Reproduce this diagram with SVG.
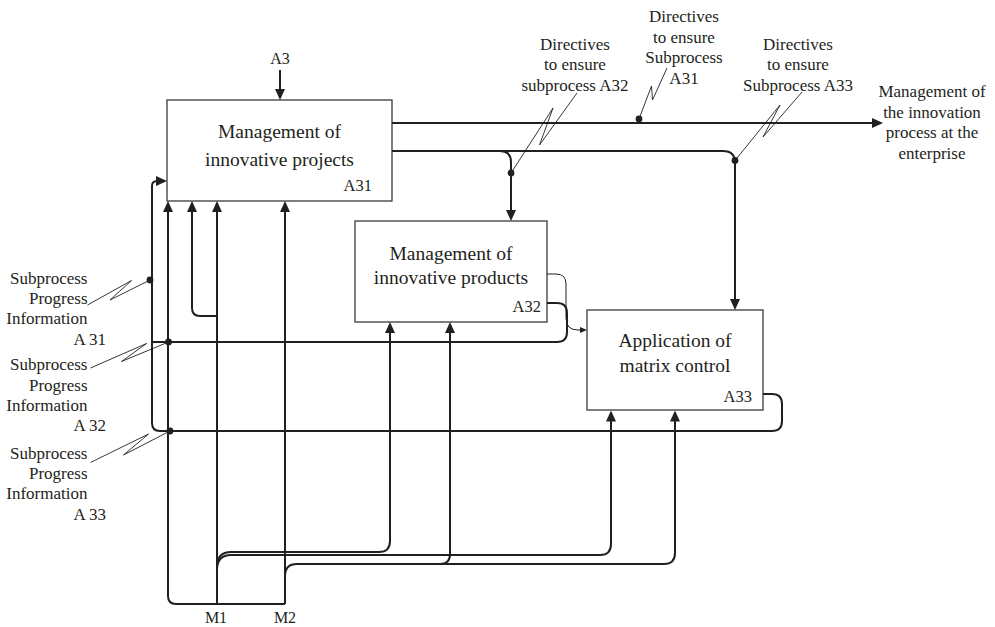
<svg xmlns="http://www.w3.org/2000/svg" width="995" height="627" viewBox="0 0 995 627">
  <style>
    text { font-family: "Liberation Serif", "Times New Roman", serif; fill: #231f20; }
    .title { font-size: 19.5px; text-anchor: middle; }
    .idx { font-size: 16.5px; text-anchor: end; }
    .note { font-size: 17px; text-anchor: middle; }
    .note-r { font-size: 17px; text-anchor: end; }
    .tag { font-size: 16px; text-anchor: middle; }
    .box { fill: #fff; stroke: #3a3a3a; stroke-width: 1.3; }
    .conn { fill: none; stroke: #231f20; stroke-width: 2; }
    .arrow { marker-end: url(#head); }
    .thin { fill: none; stroke: #231f20; stroke-width: 1; marker-end: url(#head-small); }
    .leader { fill: none; stroke: #231f20; stroke-width: 0.9; stroke-linejoin: miter; }
    .dot { fill: #231f20; }
  </style>
  <defs>
    <marker id="head" viewBox="0 0 11 10" refX="6" refY="5" markerWidth="11" markerHeight="10" markerUnits="userSpaceOnUse" orient="auto">
      <path d="M0,0 L11,5 L0,10 Z" fill="#231f20"/>
    </marker>
    <marker id="head-small" viewBox="0 0 7 6" refX="4" refY="3" markerWidth="7" markerHeight="6" markerUnits="userSpaceOnUse" orient="auto">
      <path d="M0,0 L7,3 L0,6 Z" fill="#231f20"/>
    </marker>
  </defs>

  <!-- activity boxes -->
  <g id="node-A31">
    <rect class="box" x="167" y="100" width="225" height="101"/>
    <text class="title" x="279.5" y="138">Management of</text>
    <text class="title" x="279.5" y="166">innovative projects</text>
    <text class="idx" x="372" y="191">A31</text>
  </g>
  <g id="node-A32">
    <rect class="box" x="355" y="221" width="192" height="101"/>
    <text class="title" x="451" y="260">Management of</text>
    <text class="title" x="451" y="284">innovative products</text>
    <text class="idx" x="541" y="311.5">A32</text>
  </g>
  <g id="node-A33">
    <rect class="box" x="587" y="310" width="176" height="100"/>
    <text class="title" x="675" y="346.5">Application of</text>
    <text class="title" x="675" y="371.5">matrix control</text>
    <text class="idx" x="752" y="401.5">A33</text>
  </g>

  <g id="connectors">
    <!-- control from parent -->
    <path class="conn arrow" d="M280,70 V95"/>
    <!-- A31 outputs -->
    <path class="conn arrow" d="M392,123 H878"/>
    <path class="conn arrow" d="M392,151 H723 Q735,151 735,163 V305"/>
    <path class="conn arrow" d="M500,151 Q511,151 511,162 V216"/>
    <!-- A32 outputs -->
    <path class="thin" d="M547,274 H556 Q566,274 566,284 V318 Q566,330 578,330 H584"/>
    <path class="conn" d="M547,303 H557 Q567,303 567,313 V332 Q567,342 557,342 H152"/>
    <!-- A33 output fed back to A31 -->
    <path class="conn arrow" d="M763,394 H772 Q782,394 782,404 V421 Q782,431 772,431 H160 Q152,431 152,423 V186 Q152,181 157,181 H162"/>
    <!-- mechanisms M1, M2 -->
    <path class="conn arrow" d="M285,604 H176 Q168,604 168,596 V206"/>
    <path class="conn arrow" d="M217,604 V206"/>
    <path class="conn arrow" d="M285,604 V206"/>
    <path class="conn arrow" d="M217,316 H200 Q192,316 192,308 V206"/>
    <path class="conn arrow" d="M217,567 Q217,552 231,552 H379 Q390,552 390,541 V327"/>
    <path class="conn arrow" d="M217,570 Q217,555 231,555 H600 Q611,555 611,544 V415.5"/>
    <path class="conn arrow" d="M285,576 Q285,564 297,564 H664 Q675,564 675,553 V415.5"/>
    <path class="conn arrow" d="M440,564 Q450,564 450,554 V327"/>

    <!-- squiggle leaders -->
    <path class="leader" d="M511,173 L553,108 L539.5,145 L577,93"/>
    <path class="leader" d="M639,119 L651.5,86 L652.5,100 L667,68"/>
    <path class="leader" d="M735,160.5 L780,105 L763,137 L802,92"/>
    <path class="leader" d="M150,280 L110,300 L131.5,280.5 L87.5,305"/>
    <path class="leader" d="M168.5,342 L121.5,361.5 L146.5,343.5 L90.5,368"/>
    <path class="leader" d="M170,431 L123.5,455 L148.5,434 L90.5,462.5"/>

    <!-- junction dots -->
    <circle class="dot" cx="639" cy="119" r="3.4"/>
    <circle class="dot" cx="511" cy="173" r="3.4"/>
    <circle class="dot" cx="735" cy="160.5" r="3.4"/>
    <circle class="dot" cx="150" cy="280" r="3.4"/>
    <circle class="dot" cx="168.5" cy="342" r="3.4"/>
    <circle class="dot" cx="170" cy="431" r="3.4"/>
  </g>

  <!-- arrow labels -->
  <g id="labels">
    <text class="tag" x="280" y="64">A3</text>
    <text class="tag" x="216" y="623">M1</text>
    <text class="tag" x="285" y="623">M2</text>

    <text class="note" x="575" y="49.5">Directives</text>
    <text class="note" x="575" y="70">to ensure</text>
    <text class="note" x="575" y="90.5">subprocess A32</text>

    <text class="note" x="684" y="22">Directives</text>
    <text class="note" x="684" y="42.5">to ensure</text>
    <text class="note" x="684" y="63">Subprocess</text>
    <text class="note" x="684" y="83.5">A31</text>

    <text class="note" x="798" y="49.5">Directives</text>
    <text class="note" x="798" y="70">to ensure</text>
    <text class="note" x="798" y="90.5">Subprocess A33</text>

    <text class="note" x="932" y="97">Management of</text>
    <text class="note" x="932" y="117.5">the innovation</text>
    <text class="note" x="932" y="138">process at the</text>
    <text class="note" x="932" y="158.5">enterprise</text>

    <text class="note-r" x="87.5" y="283.5">Subprocess</text>
    <text class="note-r" x="87.5" y="304">Progress</text>
    <text class="note-r" x="87.5" y="324">Information</text>
    <text class="note-r" x="106" y="344.5">A 31</text>

    <text class="note-r" x="87.5" y="370">Subprocess</text>
    <text class="note-r" x="87.5" y="390.5">Progress</text>
    <text class="note-r" x="87.5" y="411">Information</text>
    <text class="note-r" x="106" y="431">A 32</text>

    <text class="note-r" x="87.5" y="458.5">Subprocess</text>
    <text class="note-r" x="87.5" y="478.5">Progress</text>
    <text class="note-r" x="87.5" y="499">Information</text>
    <text class="note-r" x="106" y="519.5">A 33</text>
  </g>
</svg>
